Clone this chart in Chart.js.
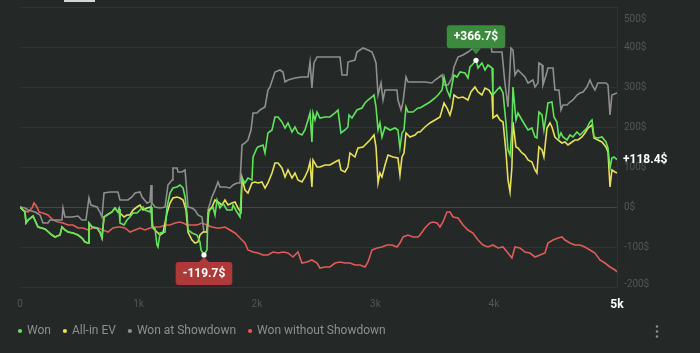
<!DOCTYPE html>
<html><head><meta charset="utf-8">
<script src="https://cdn.jsdelivr.net/npm/chart.js@4.4.1/dist/chart.umd.min.js"></script>
<style>html,body{margin:0;padding:0;background:#242826;}canvas{display:block}</style>
</head><body>
<canvas id="c" width="700" height="353"></canvas>
<script>
const seriesNames = ['Won', 'All-in EV', 'Won at Showdown', 'Won without Showdown'];
const seriesColors = ['#62e35c', '#e8e15c', '#8f8f8f', '#e15b58'];

// [hands, dollars]
const won = [[0,0],[42,-12.5],[51,-40],[68,-32.5],[101,-25],[110,-22.5],[152,-50],[211,-55],[270,-70],[295,-75],[338,-70],[354,-50],[380,-57.5],[405,-62.5],[447,-65],[490,-70],[523,-77.5],[549,-87.5],[574,-90],[582,-40],[608,-50],[650,-52.5],[675,-62.5],[692,-77.5],[709,-25],[734,-20],[776,-12.5],[802,-2.5],[827,-12.5],[836,-5],[844,-40],[878,-45],[903,-32.5],[928,-25],[954,-15],[987,-15],[1013,-7.5],[1038,0],[1055,-7.5],[1097,-12.5],[1106,0],[1114,-50],[1139,-52.5],[1156,-95],[1165,-100],[1182,-65],[1224,-62.5],[1241,0],[1266,35],[1291,47.5],[1325,50],[1350,55],[1376,47.5],[1393,25],[1409,-15],[1418,-57.5],[1452,-65],[1494,-70],[1519,-87.5],[1528,-107.5],[1553,-119.7],[1578,-107.5],[1587,-15],[1604,-7.5],[1629,0],[1646,-20],[1663,17.5],[1688,-2.5],[1713,10],[1747,-7.5],[1789,-7.5],[1798,5],[1831,-12.5],[1857,-25],[1874,72.5],[1899,60],[1924,72.5],[1958,67.5],[1967,125],[2000,147.5],[2009,150],[2051,155],[2068,135],[2093,185],[2127,192.5],[2152,225],[2178,225],[2211,212.5],[2237,197.5],[2262,210],[2296,187.5],[2321,200],[2346,185],[2380,180],[2405,192.5],[2431,217.5],[2448,235],[2464,162.5],[2473,235],[2490,217.5],[2507,237.5],[2532,222.5],[2574,225],[2616,225],[2659,235],[2684,242.5],[2709,185],[2743,192.5],[2768,200],[2777,230],[2802,222.5],[2844,242.5],[2886,247.5],[2912,260],[2937,267.5],[2971,275],[2988,280],[3005,250],[3022,192.5],[3038,210],[3055,175],[3081,200],[3123,192.5],[3165,197.5],[3190,192.5],[3207,147.5],[3224,185],[3241,192.5],[3258,250],[3275,237.5],[3317,237.5],[3359,247.5],[3376,247.5],[3418,255],[3460,262.5],[3503,272.5],[3528,280],[3562,292.5],[3579,325],[3604,292.5],[3629,275],[3646,305],[3663,330],[3688,325],[3714,337.5],[3756,335],[3781,322.5],[3798,350],[3815,355],[3849,366.7],[3866,347.5],[3899,360],[3925,342.5],[3950,355],[3984,347.5],[3992,280],[4026,292.5],[4051,300],[4077,285],[4102,210],[4119,142.5],[4136,130],[4152,192.5],[4161,300],[4186,217.5],[4203,235],[4237,217.5],[4262,205],[4288,192.5],[4321,197.5],[4347,175],[4363,172.5],[4380,237.5],[4406,230],[4422,192.5],[4448,242.5],[4456,260],[4490,262.5],[4507,225],[4532,212.5],[4549,172.5],[4566,185],[4583,175],[4617,167.5],[4642,180],[4667,175],[4701,187.5],[4726,180],[4752,187.5],[4785,197.5],[4811,212.5],[4828,217.5],[4845,175],[4878,172.5],[4912,175],[4946,162.5],[4963,147.5],[4980,97.5],[4996,122.5],[5013,125],[5039,118.4]];

const allInEV = [[0,0],[42,-12.5],[51,-40],[68,-32.5],[101,-25],[110,-22.5],[152,-50],[211,-55],[270,-70],[295,-75],[338,-70],[354,-50],[380,-57.5],[405,-62.5],[447,-65],[490,-70],[523,-77.5],[549,-87.5],[574,-90],[582,-40],[608,-50],[650,-52.5],[675,-62.5],[692,-77.5],[709,-25],[734,-20],[776,-12.5],[802,-2.5],[827,-12.5],[836,-5],[844,-15],[878,-25],[903,-20],[928,-20],[954,-7.5],[987,0],[1013,5],[1038,-7.5],[1072,-2.5],[1106,0],[1122,-52.5],[1156,-62.5],[1182,-70],[1207,-65],[1241,-15],[1266,10],[1291,22.5],[1325,25],[1350,22.5],[1376,17.5],[1401,-7.5],[1418,-62.5],[1452,-82.5],[1477,-90],[1502,-87.5],[1519,-70],[1545,-62.5],[1578,-62.5],[1595,-7.5],[1620,0],[1646,17.5],[1671,12.5],[1705,5],[1730,17.5],[1756,5],[1789,10],[1815,12.5],[1840,-2.5],[1865,-12.5],[1874,72.5],[1899,42.5],[1924,35],[1958,60],[1983,62.5],[2009,60],[2042,62.5],[2068,47.5],[2093,60],[2127,85],[2152,110],[2178,110],[2211,97.5],[2237,75],[2262,92.5],[2296,72.5],[2321,85],[2346,67.5],[2380,62.5],[2405,75],[2431,92.5],[2448,112.5],[2464,50],[2473,117.5],[2507,100],[2532,100],[2574,105],[2616,105],[2659,112.5],[2692,117.5],[2709,92.5],[2743,87.5],[2768,100],[2785,135],[2827,125],[2853,147.5],[2895,150],[2929,160],[2954,167.5],[2988,180],[3005,150],[3022,60],[3038,85],[3055,75],[3081,105],[3106,130],[3148,125],[3190,122.5],[3207,80],[3224,125],[3241,135],[3258,185],[3292,175],[3334,180],[3359,187.5],[3376,187.5],[3418,200],[3460,210],[3503,217.5],[3545,225],[3579,260],[3604,247.5],[3629,230],[3646,247.5],[3663,280],[3697,272.5],[3739,275],[3781,267.5],[3806,287.5],[3840,300],[3866,287.5],[3899,280],[3925,297.5],[3958,292.5],[3984,280],[3992,222.5],[4026,230],[4051,217.5],[4077,212.5],[4102,137.5],[4119,67.5],[4136,37.5],[4152,100],[4161,212.5],[4186,150],[4203,147.5],[4237,135],[4262,130],[4288,117.5],[4321,112.5],[4347,92.5],[4363,85],[4380,150],[4406,142.5],[4422,125],[4448,197.5],[4473,210],[4490,200],[4515,175],[4541,167.5],[4574,160],[4600,162.5],[4625,155],[4659,162.5],[4684,167.5],[4709,167.5],[4743,175],[4768,185],[4794,197.5],[4828,205],[4845,172.5],[4878,167.5],[4912,162.5],[4946,150],[4963,137.5],[4980,50],[4996,92.5],[5022,87.5],[5039,85]];

const showdown = [[0,0],[42,-2.5],[68,-7.5],[127,-12.5],[169,-20],[194,-40],[236,-40],[253,-32.5],[354,-32.5],[363,-2.5],[380,-25],[439,-25],[490,-22.5],[523,-32.5],[557,-32.5],[582,22.5],[599,5],[650,0],[675,-12.5],[692,-25],[709,35],[760,37.5],[827,37.5],[844,17.5],[911,17.5],[945,25],[971,35],[1013,37.5],[1030,25],[1072,10],[1097,12.5],[1106,55],[1114,10],[1139,0],[1182,-2.5],[1224,0],[1249,55],[1283,67.5],[1291,97.5],[1325,97.5],[1334,87.5],[1367,87.5],[1393,92.5],[1409,35],[1418,0],[1452,-2.5],[1477,-7.5],[1502,-20],[1536,-25],[1553,-62.5],[1578,-62.5],[1587,-7.5],[1620,25],[1646,42.5],[1671,62.5],[1688,50],[1730,50],[1772,47.5],[1798,55],[1831,60],[1857,60],[1874,155],[1899,160],[1924,167.5],[1950,192.5],[1967,235],[2000,235],[2026,242.5],[2068,250],[2093,292.5],[2110,300],[2152,337.5],[2194,342.5],[2220,337.5],[2237,312.5],[2262,317.5],[2321,322.5],[2380,325],[2431,325],[2448,362.5],[2464,297.5],[2481,360],[2507,375],[2574,375],[2659,375],[2701,375],[2718,330],[2760,330],[2768,362.5],[2827,367.5],[2844,387.5],[2895,397.5],[2937,392.5],[2971,387.5],[2988,375],[3005,360],[3022,280],[3047,310],[3064,267.5],[3081,292.5],[3182,292.5],[3190,267.5],[3216,242.5],[3233,262.5],[3258,325],[3275,312.5],[3359,312.5],[3418,312.5],[3477,310],[3503,317.5],[3528,322.5],[3562,330],[3579,305],[3613,305],[3646,322.5],[3663,350],[3697,375],[3739,380],[3781,387.5],[3823,397.5],[3866,417.5],[3899,450],[3950,450],[3984,387.5],[4068,387.5],[4093,310],[4119,250],[4144,397.5],[4161,392.5],[4178,330],[4203,342.5],[4262,325],[4288,310],[4330,317.5],[4347,300],[4372,310],[4380,360],[4406,355],[4414,305],[4448,337.5],[4456,347.5],[4499,347.5],[4515,292.5],[4549,292.5],[4566,242.5],[4583,255],[4617,255],[4642,262.5],[4667,267.5],[4701,280],[4726,285],[4752,287.5],[4785,300],[4811,317.5],[4828,305],[4853,292.5],[4878,310],[4946,310],[4963,305],[4980,230],[4996,280],[5039,285]];

const nonShowdown = [[0,0],[25,-7.5],[68,-12.5],[101,-2.5],[118,10],[143,0],[160,-12.5],[194,-15],[236,-20],[279,-32.5],[321,-37.5],[363,-40],[405,-45],[447,-45],[490,-52.5],[532,-52.5],[574,-57.5],[616,-52.5],[658,-52.5],[701,-57.5],[743,-62.5],[785,-52.5],[827,-50],[844,-50],[886,-52.5],[928,-62.5],[971,-57.5],[1013,-52.5],[1055,-57.5],[1097,-52.5],[1139,-50],[1182,-50],[1224,-45],[1266,-45],[1308,-40],[1350,-37.5],[1376,-40],[1409,-45],[1452,-45],[1494,-45],[1536,-40],[1578,-45],[1620,-50],[1663,-52.5],[1688,-52.5],[1730,-50],[1772,-57.5],[1815,-65],[1857,-77.5],[1899,-90],[1924,-107.5],[1967,-112.5],[2009,-115],[2051,-120],[2093,-120],[2135,-112.5],[2178,-115],[2220,-112.5],[2262,-115],[2304,-125],[2346,-112.5],[2380,-140],[2422,-137.5],[2464,-132.5],[2507,-140],[2532,-152.5],[2574,-150],[2616,-150],[2659,-140],[2701,-137.5],[2743,-140],[2785,-140],[2827,-145],[2870,-145],[2912,-150],[2937,-137.5],[2971,-107.5],[3013,-102.5],[3055,-100],[3097,-95],[3140,-95],[3182,-100],[3207,-90],[3233,-75],[3275,-70],[3317,-75],[3359,-75],[3376,-70],[3418,-52.5],[3460,-40],[3486,-37.5],[3520,-40],[3545,-50],[3570,-37.5],[3604,-12.5],[3629,-12.5],[3655,-25],[3697,-27.5],[3739,-45],[3781,-57.5],[3823,-65],[3866,-82.5],[3908,-95],[3950,-100],[3992,-95],[4034,-102.5],[4077,-100],[4119,-115],[4152,-127.5],[4178,-100],[4220,-102.5],[4262,-112.5],[4304,-115],[4347,-125],[4389,-120],[4431,-115],[4456,-90],[4499,-82.5],[4541,-77.5],[4574,-75],[4600,-82.5],[4642,-90],[4684,-95],[4726,-95],[4768,-100],[4811,-107.5],[4853,-115],[4895,-132.5],[4937,-140],[4980,-150],[5022,-157.5],[5039,-162]];

const xTickValues = [0, 1000, 2000, 3000, 4000, 5039];
const xTickLabels = ['0', '1k', '2k', '3k', '4k', '5k'];
const yTickValues = [-200, -100, 0, 100, 200, 300, 400, 500];
const yTickLabels = ['-200$', '-100$', '0$', '100$', '200$', '300$', '400$', '500$'];
const maxWon = [3849, 366.7];
const minWon = [1553, -119.7];

const fmt = v => (v > 0 ? '+' : '') + v.toFixed(1) + '$';
const FONT = 'Roboto, "Noto Sans", sans-serif';

function callout(ctx, px, py, text, color, above) {
  ctx.font = 'bold 12px ' + FONT;
  const w = ctx.measureText(text).width + 14, h = 23, r = 3;
  const bx = px - w / 2;
  let by, baseY, tipY;
  if (above) { baseY = py - 12; by = baseY - h; tipY = py - 6; }
  else { baseY = py + 7; by = baseY; tipY = py + 2; }
  ctx.fillStyle = color;
  ctx.beginPath();
  ctx.moveTo(bx + r, by); ctx.lineTo(bx + w - r, by); ctx.quadraticCurveTo(bx + w, by, bx + w, by + r);
  ctx.lineTo(bx + w, by + h - r); ctx.quadraticCurveTo(bx + w, by + h, bx + w - r, by + h);
  ctx.lineTo(bx + r, by + h); ctx.quadraticCurveTo(bx, by + h, bx, by + h - r);
  ctx.lineTo(bx, by + r); ctx.quadraticCurveTo(bx, by, bx + r, by);
  ctx.closePath(); ctx.fill();
  ctx.beginPath(); ctx.moveTo(px - 5, baseY); ctx.lineTo(px + 5, baseY); ctx.lineTo(px, tipY); ctx.closePath(); ctx.fill();
  ctx.fillStyle = '#ffffff'; ctx.textAlign = 'center'; ctx.textBaseline = 'middle';
  ctx.fillText(text, px, by + h / 2 + 0.5);
  ctx.beginPath(); ctx.arc(px, py, 2.6, 0, Math.PI * 2); ctx.fill();
}

const overlay = {
  id: 'overlay',
  afterDatasetsDraw(chart) {
    const { ctx, chartArea } = chart;
    const x = chart.scales.x, y = chart.scales.y;
    ctx.save();
    callout(ctx, x.getPixelForValue(maxWon[0]), y.getPixelForValue(maxWon[1]), fmt(maxWon[1]), '#3b8a3e', true);
    callout(ctx, x.getPixelForValue(minWon[0]), y.getPixelForValue(minWon[1]), fmt(minWon[1]), '#ad3a38', false);
    ctx.font = '10px ' + FONT; ctx.fillStyle = '#525855'; ctx.textAlign = 'left'; ctx.textBaseline = 'middle';
    yTickValues.forEach((v, i) => {
      let py = y.getPixelForValue(v);
      py = Math.min(Math.max(py, chartArea.top + 12), chartArea.bottom - 3);
      ctx.fillText(yTickLabels[i], chartArea.right + 7, py);
    });
    const last = won[won.length - 1];
    ctx.font = 'bold 12px ' + FONT; ctx.fillStyle = '#ffffff';
    ctx.fillText(fmt(last[1]), chartArea.right + 6, y.getPixelForValue(last[1]));
    // menu dots
    ctx.fillStyle = '#8a8f8c';
    [326.5, 331.5, 336.5].forEach(cy => { ctx.beginPath(); ctx.arc(657, cy, 1.3, 0, Math.PI * 2); ctx.fill(); });
    // tab marker at top
    ctx.fillStyle = '#d6d6d6'; ctx.fillRect(64, 0, 31, 2);
    ctx.restore();
  }
};

const datasets = [won, allInEV, showdown, nonShowdown].map((s, i) => ({
  label: seriesNames[i],
  data: s.map(p => ({ x: p[0], y: p[1] })),
  borderColor: seriesColors[i],
  backgroundColor: seriesColors[i],
  borderWidth: 1.6,
  pointRadius: 0,
  pointHoverRadius: 0,
  tension: 0,
  xAxisID: 'x',
  yAxisID: 'y'
}));

new Chart(document.getElementById('c'), {
  type: 'line',
  data: { datasets },
  plugins: [overlay],
  options: {
    responsive: false,
    animation: false,
    devicePixelRatio: 1,
    layout: { padding: { top: 7, left: 6, right: 0, bottom: 6 } },
    interaction: { mode: 'nearest', intersect: false },
    plugins: {
      tooltip: { enabled: false },
      legend: {
        position: 'bottom', align: 'start',
        labels: {
          usePointStyle: true, pointStyle: 'circle', boxWidth: 2, boxHeight: 3, padding: 13,
          color: '#8c918e', font: { family: FONT, size: 12 },
          generateLabels(chart) {
            return Chart.defaults.plugins.legend.labels.generateLabels(chart).map(l => Object.assign(l, { lineWidth: 0 }));
          }
        }
      }
    },
    scales: {
      x: {
        type: 'linear', position: 'bottom', min: 0, max: 5039,
        afterBuildTicks(s) { s.ticks = xTickValues.map(v => ({ value: v })); },
        afterFit(s) { s.height = 25; },
        ticks: {
          autoSkip: false, maxRotation: 0, padding: 11,
          callback: v => xTickLabels[xTickValues.indexOf(v)],
          color: c => (c.tick && c.tick.value === 5039) ? '#ffffff' : '#525855',
          font: c => (c.tick && c.tick.value === 5039) ? { family: FONT, size: 12, weight: 'bold' } : { family: FONT, size: 10 }
        },
        grid: { display: false, drawTicks: false },
        border: { display: false }
      },
      y: {
        type: 'linear', position: 'right', min: -200, max: 500,
        afterFit(s) { s.width = 83; },
        ticks: { display: false, stepSize: 100 },
        grid: {
          drawTicks: false,
          color: c => (c.tick && c.tick.value === 0) ? 'rgba(255,255,255,0.14)' : 'rgba(255,255,255,0.06)'
        },
        border: { display: true, color: 'rgba(255,255,255,0.06)' }
      },
      yl: {
        type: 'linear', position: 'left', min: 0, max: 1, display: true,
        afterFit(s) { s.width = 14; },
        ticks: { display: false },
        grid: { display: false, drawTicks: false },
        border: { display: false }
      }
    }
  }
});
</script>
</body></html>
